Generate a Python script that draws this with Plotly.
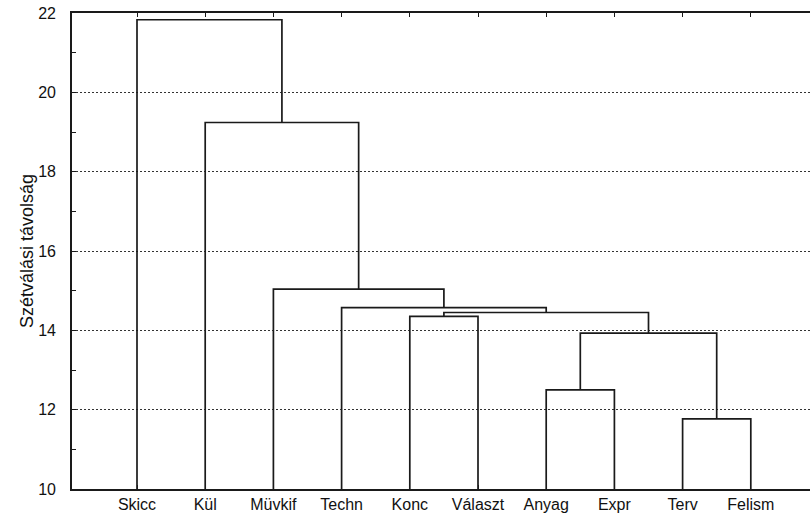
import plotly.graph_objects as go

# ---- data ----
leaves = ["Skicc", "Kül", "Müvkif", "Techn", "Konc", "Választ", "Anyag", "Expr", "Terv", "Felism"]
# merges: node ids 0..9 are leaves, 10.. are clusters (in order)
merge_left = [8, 6, 11, 4, 13, 3, 2, 1, 0]
merge_right = [9, 7, 10, 5, 12, 14, 15, 16, 17]
merge_height = [11.77, 12.50, 13.93, 14.35, 14.45, 14.57, 15.04, 19.24, 21.83]
y_ticks = [10, 12, 14, 16, 18, 20, 22]
base_level = 10

# ---- build tree paths ----
n = len(leaves)
xpos = {i: i + 1 for i in range(n)}
hpos = {i: base_level for i in range(n)}
xs, ys = [], []
for k, (a, b, h) in enumerate(zip(merge_left, merge_right, merge_height)):
    xa, xb = xpos[a], xpos[b]
    xs += [xa, xa, xb, xb, None]
    ys += [hpos[a], h, h, hpos[b], None]
    node = n + k
    xpos[node] = (xa + xb) / 2
    hpos[node] = h

fig = go.Figure()
fig.add_trace(go.Scatter(x=xs, y=ys, mode="lines",
                         line=dict(color="#1a1a1a", width=1.7),
                         hoverinfo="skip", showlegend=False))

ff = "Liberation Sans, Arial, sans-serif"

fig.update_layout(
    width=810, height=519,
    margin=dict(l=72, r=0, t=13, b=30),
    paper_bgcolor="white", plot_bgcolor="white",
    font=dict(family=ff, color="#111111"),
    xaxis=dict(
        range=[0.047, 10.868],
        tickmode="array",
        tickvals=list(range(1, n + 1)),
        ticktext=leaves,
        showgrid=False, zeroline=False,
        showline=True, linecolor="#1a1a1a", linewidth=2, mirror="ticks",
        ticks="inside", ticklen=4, tickcolor="#1a1a1a",
        tickfont=dict(family=ff, size=16, color="#111111"),
        ticklabelstandoff=0,
    ),
    yaxis=dict(
        range=[10, 22],
        tickmode="array", tickvals=y_ticks,
        showgrid=True, gridcolor="#333333", gridwidth=1, griddash="2px,2px",
        zeroline=False,
        showline=True, linecolor="#1a1a1a", linewidth=1.6,
        ticks="inside", ticklen=4, tickcolor="#1a1a1a",
        minor=dict(ticks="inside", dtick=1, tick0=10, ticklen=4, tickcolor="#1a1a1a", showgrid=False),
        tickfont=dict(family=ff, size=16, color="#111111"),
        ticklabelstandoff=11,
        title=dict(text="Szétválási távolság",
                   font=dict(family=ff, size=18, color="#111111"),
                   standoff=0),
    ),
)

fig.write_html("out.html")
